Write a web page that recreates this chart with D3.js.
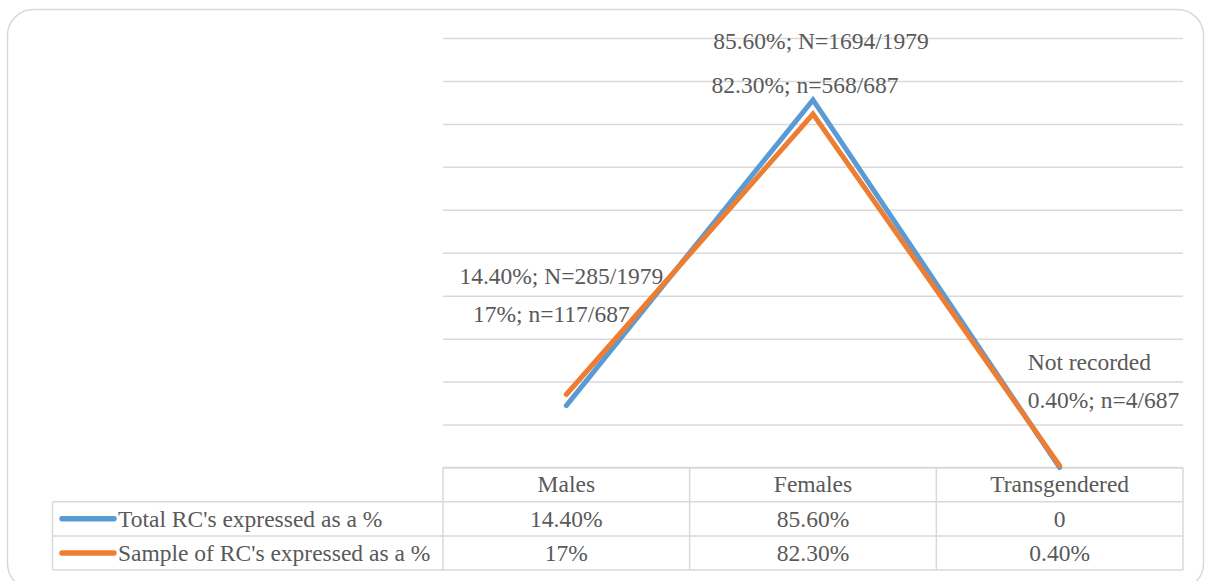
<!DOCTYPE html>
<html>
<head>
<meta charset="utf-8">
<script src="https://cdn.jsdelivr.net/npm/d3@7"></script>
<style>
  html, body { margin: 0; padding: 0; background: #fff; }
  svg { display: block; }
</style>
</head>
<body>
<svg id="chart" width="1206" height="581"></svg>
<script>
// Gender breakdown of RCs: whole population vs. sample
const categories = ["Males", "Females", "Transgendered"];
const seriesNames = ["Total RC's expressed as a %", "Sample of RC's expressed as a %"];
const totalValues = [14.4, 85.6, 0];
const sampleValues = [17, 82.3, 0.4];
const totalTable = ["14.40%", "85.60%", "0"];
const sampleTable = ["17%", "82.30%", "0.40%"];
const totalLabels = ["14.40%; N=285/1979", "85.60%; N=1694/1979", "Not recorded"];
const sampleLabels = ["17%; n=117/687", "82.30%; n=568/687", "0.40%; n=4/687"];
const yTicks = [0, 10, 20, 30, 40, 50, 60, 70, 80, 90, 100];

const colors = ["#5B9BD5", "#ED7D31"];
const series = [
  { name: seriesNames[0], values: totalValues, table: totalTable, labels: totalLabels, color: colors[0] },
  { name: seriesNames[1], values: sampleValues, table: sampleTable, labels: sampleLabels, color: colors[1] }
];

// label placement relative to each point: [dx, dy, anchor]
const labelOffsets = [
  [[-5, -122, "middle"], [8, -51, "middle"], [-32, -98, "start"]],
  [[-15, -72, "middle"], [-8, -21, "middle"], [-32, -58, "start"]]
];

const FONT = "'Liberation Serif', 'Times New Roman', 'DejaVu Serif', serif";
const svg = d3.select("#chart")
  .attr("font-family", FONT)
  .style("font-family", FONT);
const fontSize = 23.5;
const textColor = "#595959";
const grid = "#d9d9d9";

// outer frame
svg.append("rect")
  .attr("x", 7.5).attr("y", 9.5)
  .attr("width", 1196).attr("height", 580)
  .attr("rx", 26).attr("ry", 26)
  .attr("fill", "#fff").attr("stroke", grid).attr("stroke-width", 1.5);

const plotLeft = 443, plotRight = 1183, plotTop = 38, plotBottom = 467.5;

const x = d3.scaleBand().domain(categories).range([plotLeft, plotRight]).padding(0);
const y = d3.scaleLinear().domain([0, 100]).range([plotBottom, plotTop]);

// horizontal gridlines
const gridAxis = d3.axisLeft(y).tickValues(yTicks).tickSize(-(plotRight - plotLeft)).tickFormat("");
const gG = svg.append("g").attr("transform", `translate(${plotLeft},0)`).call(gridAxis);
gG.select(".domain").remove();
gG.selectAll(".tick line").attr("stroke", grid).attr("stroke-width", 1.5);

// data table under the plot
const rowH = 34.2;
const tableLeft = 52.5;
const rowTops = [plotBottom, plotBottom + rowH, plotBottom + 2 * rowH];
const tG = svg.append("g");
const tableBottom = rowTops[2] + rowH;

// horizontal rules
tG.append("line").attr("x1", plotLeft).attr("x2", plotRight).attr("y1", rowTops[0]).attr("y2", rowTops[0]);
[rowTops[1], rowTops[2], tableBottom].forEach(v => {
  tG.append("line").attr("x1", tableLeft).attr("x2", plotRight).attr("y1", v).attr("y2", v);
});
// vertical rules
tG.append("line").attr("x1", tableLeft).attr("x2", tableLeft).attr("y1", rowTops[1]).attr("y2", tableBottom);
categories.forEach(c => {
  tG.append("line").attr("x1", x(c)).attr("x2", x(c)).attr("y1", rowTops[0]).attr("y2", tableBottom);
});
tG.append("line").attr("x1", plotRight).attr("x2", plotRight).attr("y1", rowTops[0]).attr("y2", tableBottom);
tG.selectAll("line").attr("stroke", grid).attr("stroke-width", 1.5);

function styleText(sel) {
  return sel.attr("font-family", FONT).attr("font-size", fontSize).attr("fill", textColor);
}

// category header row
tG.selectAll("text.cat").data(categories).join("text")
  .attr("class", "cat")
  .attr("x", d => x(d) + x.bandwidth() / 2)
  .attr("y", rowTops[0] + 24.5)
  .attr("text-anchor", "middle")
  .call(styleText)
  .text(d => d);

// series rows: legend key, name, values
series.forEach((s, i) => {
  const top = rowTops[i + 1];
  tG.append("line")
    .attr("x1", 62).attr("x2", 114)
    .attr("y1", top + 17).attr("y2", top + 17)
    .attr("stroke", s.color).attr("stroke-width", 5.5).attr("stroke-linecap", "round");
  tG.append("text")
    .attr("x", 118).attr("y", top + 25)
    .call(styleText)
    .text(s.name);
  tG.selectAll(`text.v${i}`).data(s.table).join("text")
    .attr("class", `v${i}`)
    .attr("x", (d, j) => x(categories[j]) + x.bandwidth() / 2)
    .attr("y", top + 25)
    .attr("text-anchor", "middle")
    .call(styleText)
    .text(d => d);
});

// series lines
const line = d3.line()
  .x((d, j) => x(categories[j]) + x.bandwidth() / 2)
  .y(d => y(d));

series.forEach(s => {
  svg.append("path")
    .datum(s.values)
    .attr("d", line)
    .attr("fill", "none")
    .attr("stroke", s.color)
    .attr("stroke-width", 5)
    .attr("stroke-linecap", "round")
    .attr("stroke-linejoin", "miter");
});

// data labels
series.forEach((s, i) => {
  svg.selectAll(`text.lab${i}`).data(s.labels).join("text")
    .attr("class", `lab${i}`)
    .attr("x", (d, j) => x(categories[j]) + x.bandwidth() / 2 + labelOffsets[i][j][0])
    .attr("y", (d, j) => y(s.values[j]) + labelOffsets[i][j][1])
    .attr("text-anchor", (d, j) => labelOffsets[i][j][2])
    .call(styleText)
    .text(d => d);
});
</script>
</body>
</html>
